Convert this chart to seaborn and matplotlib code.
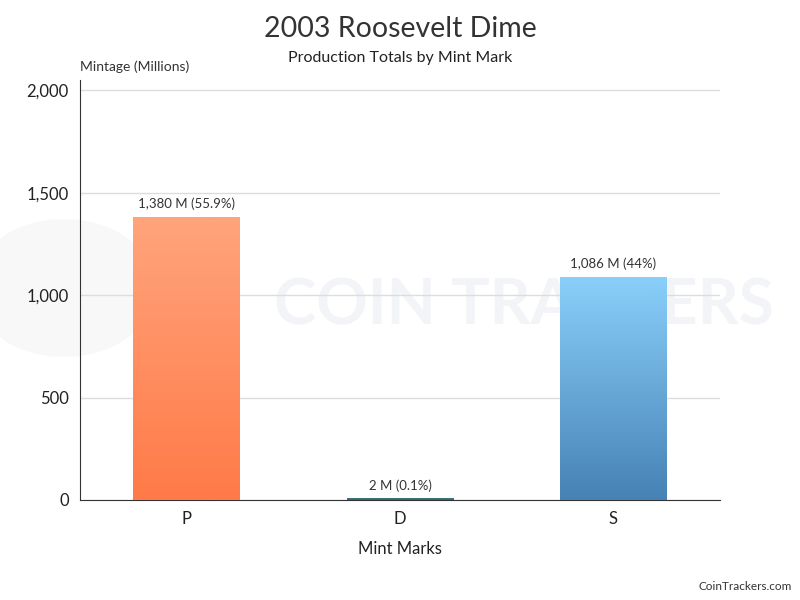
import numpy as np
import pandas as pd
import matplotlib
matplotlib.use("Agg")
import matplotlib.pyplot as plt
import seaborn as sns
from matplotlib.colors import LinearSegmentedColormap
from matplotlib.ticker import FuncFormatter

# chart data
mint_marks = ["P", "D", "S"]
mintage = [1380, 2, 1086]
labels = ["1,380 M (55.9%)", "2 M (0.1%)", "1,086 M (44%)"]
top_colors = ["#FFA47C", "#3E7F86", "#8ACFFB"]
bottom_colors = ["#FF7A48", "#2D5F66", "#4682B4"]

df = pd.DataFrame({"mark": mint_marks, "mintage": mintage})

sns.set_style("white")
plt.rcParams["font.family"] = ["Lato", "DejaVu Sans"]

fig = plt.figure(figsize=(8, 6), dpi=100)
ax = fig.add_axes([0.1, 0.1667, 0.8, 0.7], zorder=1)
ax.patch.set_alpha(0)

# faint watermark behind the plot
fig.text(0.655, 0.49, "COIN TRACKERS", ha="center", va="center", fontsize=46,
         fontweight="bold", color="#f2f4f7", zorder=-2)
fig.patches.append(plt.Circle((0.08, 0.52), 0.115, transform=fig.transFigure,
                              facecolor="#f8f8f8", edgecolor="none", zorder=-3))

sns.barplot(data=df, x="mark", y="mintage", ax=ax, width=0.5,
            color="white", edgecolor="none", zorder=3)

# gradient fill clipped to each bar
grad = np.linspace(0, 1, 256).reshape(-1, 1)
for patch, c1, c2 in zip(ax.patches, top_colors, bottom_colors):
    x0, y0 = patch.get_x(), patch.get_y()
    w, h = patch.get_width(), patch.get_height()
    cmap = LinearSegmentedColormap.from_list("g", [c1, c2])
    h_draw = max(h, 8)
    patch.set_height(h_draw)
    im = ax.imshow(grad, cmap=cmap, aspect="auto", zorder=4,
                   extent=[x0, x0 + w, y0, y0 + h_draw], origin="upper")
    im.set_clip_path(patch)

for i, (v, lab) in enumerate(zip(mintage, labels)):
    ax.text(i, v + 35, lab, ha="center", va="bottom", fontsize=9.5,
            color="#333333", zorder=5)

ax.set_xlim(-0.5, 2.5)
ax.set_ylim(0, 2050)
ax.set_yticks([0, 500, 1000, 1500, 2000])
ax.yaxis.set_major_formatter(FuncFormatter(lambda v, p: f"{int(v):,}"))
ax.grid(axis="y", color="#dddddd", linewidth=1, zorder=0)
ax.set_axisbelow(True)
sns.despine(ax=ax, top=True, right=True)
ax.spines["left"].set_color("#333333")
ax.spines["bottom"].set_color("#333333")
ax.tick_params(axis="both", length=0, labelsize=12, colors="#222222", pad=8)
ax.set_ylabel("")
ax.set_xlabel("Mint Marks", fontsize=12, color="#222222", labelpad=10)

fig.text(0.5, 0.952, "2003 Roosevelt Dime", ha="center", va="center",
         fontsize=20.5, color="#333333")
fig.text(0.5, 0.903, "Production Totals by Mint Mark", ha="center", va="center",
         fontsize=11.5, color="#222222")
fig.text(0.1, 0.888, "Mintage (Millions)", ha="left", va="center",
         fontsize=10, color="#333333")
fig.text(0.99, 0.022, "CoinTrackers.com", ha="right", va="center",
         fontsize=8.5, color="#333333")

fig.savefig("out.png", dpi=100)
